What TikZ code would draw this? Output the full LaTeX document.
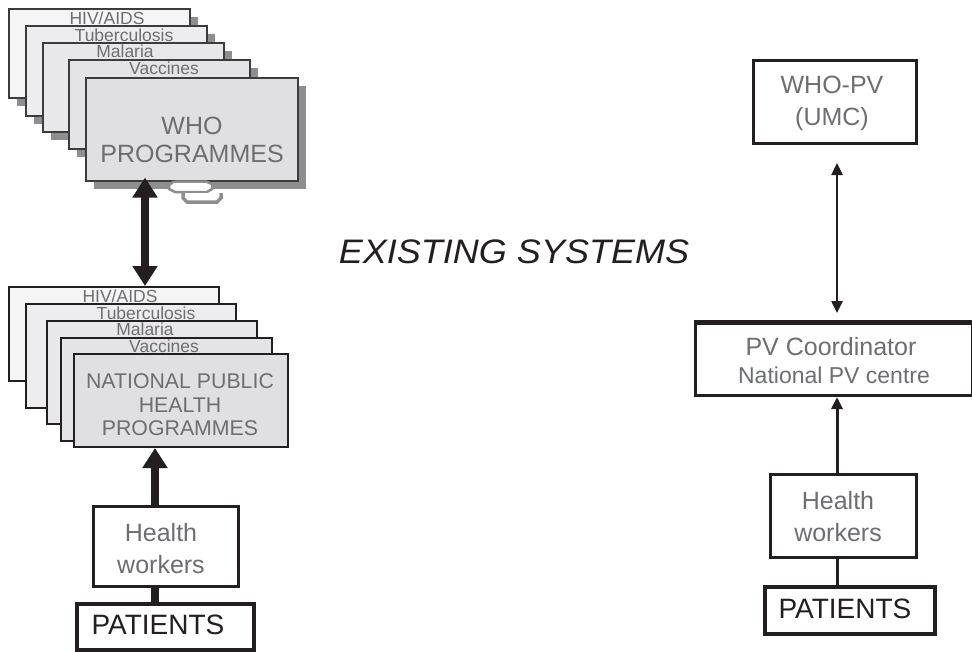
\documentclass[tikz,border=0pt]{standalone}
\usepackage{fontspec}
\setmainfont{Liberation Sans}
\usetikzlibrary{arrows.meta,shadows}
\definecolor{txtgray}{HTML}{6D6E71}
\definecolor{edgegray}{HTML}{3C3C3E}
\definecolor{shadowgray}{HTML}{8E8E8E}
\definecolor{fillA}{HTML}{F5F5F6}
\definecolor{fillB}{HTML}{EDEDEF}
\definecolor{fillC}{HTML}{E8E8EA}
\definecolor{fillD}{HTML}{E4E4E6}
\definecolor{fillE}{HTML}{E0E0E2}
\definecolor{ink}{HTML}{231F20}
\begin{document}
\begin{tikzpicture}[x=1pt,y=-1pt,
  whobox/.style={draw=edgegray,line width=1.5pt,inner sep=0pt,anchor=north west,
     drop shadow={shadow xshift=8pt,shadow yshift=-8pt,fill=shadowgray,opacity=1}},
  natbox/.style={draw=ink,line width=2pt,inner sep=0pt,anchor=north west},
  plainbox/.style={draw=ink,line width=3pt,inner sep=0pt,anchor=north west,fill=white},
  lbl/.style={text=txtgray,inner sep=0pt,anchor=base,font=\fontsize{17.5}{19}\selectfont},
  bigtxt/.style={text=txtgray,inner sep=0pt,align=center},
  fatarrow/.style={draw=ink,line width=8pt,-{Triangle[width=24pt,length=20pt]}},
  fatdouble/.style={draw=ink,line width=8pt,{Triangle[width=24pt,length=20pt]}-{Triangle[width=24pt,length=20pt]}},
  fatline/.style={draw=ink,line width=8pt},
  thinarrow/.style={draw=ink,line width=3pt,-{Triangle[width=11pt,length=12pt]}},
  thindouble/.style={draw=ink,line width=2.5pt,{Triangle[width=11pt,length=12pt]}-{Triangle[width=11pt,length=12pt]}},
  thinline/.style={draw=ink,line width=3pt}]
\useasboundingbox (0,0) rectangle (972,651);
\fill[white] (0,0) rectangle (972,651);

% ---------- WHO programmes stack ----------
\node[whobox,fill=fillA,minimum width=181pt,minimum height=89pt] (w1) at (8,8) {};
\node[lbl] (w1l) at (107,24) {HIV/AIDS};
\node[whobox,fill=fillB,minimum width=181pt,minimum height=90pt] (w2) at (25,25) {};
\node[lbl] (w2l) at (124,41) {Tuberculosis};
\node[whobox,fill=fillC,minimum width=181pt,minimum height=89pt] (w3) at (42,42) {};
\node[lbl] (w3l) at (125,57) {Malaria};
\node[whobox,fill=fillD,minimum width=181pt,minimum height=89pt] (w4) at (68,59) {};
\node[lbl] (w4l) at (164,74) {Vaccines};
\node[whobox,fill=fillE,minimum width=212pt,minimum height=103pt] (w5) at (85,77) {};
\node[bigtxt,font=\fontsize{25}{28}\selectfont] (w5t) at (192,140) {WHO\\PROGRAMMES};
% clip-like handle below the main box
\draw[shadowgray,line width=2.5pt,fill=white] (173,182) -- (178,181.5) -- (206,181.5) -- (212,184) -- (212,189) -- (207,192) -- (175,192) -- (169,189) -- (169,185) -- cycle;
\draw[shadowgray,line width=3.5pt,fill=white] (183,193) -- (183,198) -- (187,202) -- (217,202) -- (221,198) -- (221,193);

% ---------- National programmes stack ----------
\node[natbox,fill=fillA,minimum width=210pt,minimum height=94pt] (n1) at (8,286) {};
\node[lbl] (n1l) at (120,302) {HIV/AIDS};
\node[natbox,fill=fillB,minimum width=210pt,minimum height=104pt] (n2) at (25,303) {};
\node[lbl] (n2l) at (146,319) {Tuberculosis};
\node[natbox,fill=fillC,minimum width=210pt,minimum height=103pt] (n3) at (46,320) {};
\node[lbl] (n3l) at (145,335) {Malaria};
\node[natbox,fill=fillD,minimum width=211pt,minimum height=103pt] (n4) at (60,337) {};
\node[lbl] (n4l) at (164,352) {Vaccines};
\node[natbox,fill=fillE,minimum width=214pt,minimum height=93pt] (n5) at (73,353) {};
\node[bigtxt,font=\fontsize{21.3}{23.5}\selectfont] (n5t) at (180,405) {NATIONAL PUBLIC\\HEALTH\\PROGRAMMES};

% ---------- left bottom ----------
\node[plainbox,minimum width=145pt,minimum height=80pt] (hwL) at (92,505) {};
\node[bigtxt,font=\fontsize{25}{32}\selectfont] (hwLt) at (161,549) {Health\\workers};
\node[plainbox,line width=3.5pt,minimum width=177pt,minimum height=46pt] (ptL) at (75,602) {};
\node[inner sep=0pt,text=ink,font=\fontsize{28}{30}\selectfont] (ptLt) at (158,625) {PATIENTS};

% ---------- title ----------
\node[inner sep=0pt,anchor=base,text=ink,font=\fontsize{34}{36}\selectfont\itshape,xscale=1.06] (title) at (514,263) {EXISTING SYSTEMS};

% ---------- right side ----------
\node[plainbox,minimum width=163pt,minimum height=83pt] (whopv) at (752,59) {};
\node[bigtxt,font=\fontsize{25}{32}\selectfont] (whopvt) at (832,103) {WHO-PV\\(UMC)};
\node[plainbox,minimum width=277pt,minimum height=72pt] (pvc) at (694,322) {};
\draw[ink,line width=5pt] (pvc.north west) -- (pvc.north east);
\node[bigtxt,font=\fontsize{25}{28}\selectfont] (pvct1) at (831,347) {PV Coordinator};
\node[bigtxt,font=\fontsize{23}{26}\selectfont] (pvct2) at (834,375) {National PV centre};
\node[plainbox,minimum width=146pt,minimum height=83pt] (hwR) at (769,473) {};
\node[bigtxt,font=\fontsize{25}{32}\selectfont] (hwRt) at (838,517) {Health\\workers};
\node[plainbox,line width=3.5pt,minimum width=170pt,minimum height=47pt] (ptR) at (763,585) {};
\node[inner sep=0pt,text=ink,font=\fontsize{28}{30}\selectfont] (ptRt) at (845,609) {PATIENTS};

% ---------- connector axes ----------
\coordinate (axD) at (145,0);
\coordinate (axL) at (155,0);
\coordinate (axR) at (837,0);

% ---------- connectors ----------
\draw[fatdouble,shorten <=-4pt] (w5.south -| axD) -- (n1.north -| axD);
\draw[fatarrow] (hwL.north -| axL) -- (n5.south -| axL);
\draw[fatline] (hwL.south -| axL) -- (ptL.north -| axL);

\draw[thindouble,shorten <=9pt,shorten >=18pt] (pvc.north -| axR) -- (whopv.south -| axR);
\draw[thinarrow] (hwR.north -| axR) -- (pvc.south -| axR);
\draw[thinline] (hwR.south -| axR) -- (ptR.north -| axR);
\end{tikzpicture}
\end{document}
